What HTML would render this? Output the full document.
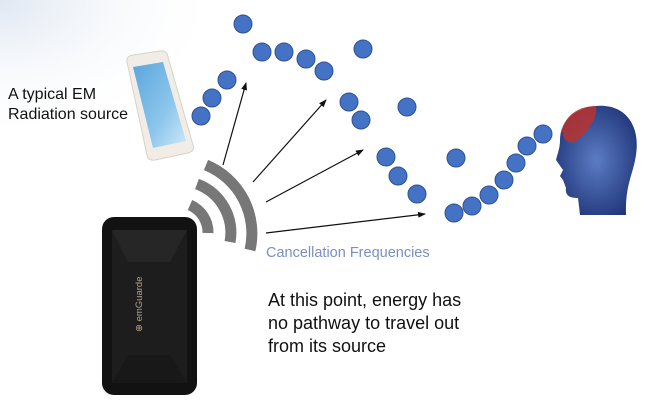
<!DOCTYPE html>
<html><head><style>
body{margin:0;width:652px;height:406px;overflow:hidden;background:#fff;font-family:"Liberation Sans",sans-serif;}
</style></head><body>
<svg width="652" height="406" viewBox="0 0 652 406" xmlns="http://www.w3.org/2000/svg">
<defs>
<radialGradient id="bg" cx="0" cy="0" r="0.35"><stop offset="0" stop-color="#dfe7f2"/><stop offset="1" stop-color="#fff" stop-opacity="0"/></radialGradient>
<linearGradient id="scr" x1="0" y1="0" x2="1" y2="1"><stop offset="0" stop-color="#5aa6dc"/><stop offset="0.6" stop-color="#8cc6ec"/><stop offset="1" stop-color="#cfe8f7"/></linearGradient>
<radialGradient id="hd" cx="0.5" cy="0.5" r="0.6"><stop offset="0" stop-color="#5b7cc4"/><stop offset="1" stop-color="#1f3478"/></radialGradient>
<marker id="ar" markerWidth="8" markerHeight="8" refX="7" refY="4" orient="auto" markerUnits="userSpaceOnUse"><path d="M0,1 L8,4 L0,7 z" fill="#111"/></marker>
</defs>
<rect width="652" height="406" fill="url(#bg)"/>
<!-- phone -->
<path d="M127 62 Q126 56 133 55 L160 51 Q167 50 168 57 L193 145 Q195 151 188 153 L155 160 Q148 161 147 155 Z" fill="#f1ede6" stroke="#d8d2c8"/>
<path d="M133 67 L163 62 L186 141 L153 148 Z" fill="url(#scr)"/>
<!-- device -->
<rect x="102" y="217" width="95" height="178" rx="12" fill="#121212"/>
<path d="M112 230 L187 230 L187 383 L112 383 Z" fill="#1d1d1d"/>
<path d="M112 230 L128 262 L170 262 L187 230 Z" fill="#262626"/>
<path d="M112 383 L128 355 L170 355 L187 383 Z" fill="#181818"/>
<text x="0" y="0" transform="translate(142 332) rotate(-90)" font-size="9.5" fill="#b9a58a">⊕ emGuarde</text>
<!-- wifi arcs -->
<g fill="none" stroke="#777" stroke-width="11" stroke-linecap="butt">
<path d="M190 205 A30 30 0 0 1 208 233"/>
<path d="M197 184 A52 52 0 0 1 230 242"/>
<path d="M206 165 A74 74 0 0 1 250 250"/>
</g>
<!-- arrows -->
<g stroke="#111" stroke-width="1.2" marker-end="url(#ar)">
<line x1="223" y1="165" x2="246" y2="83"/>
<line x1="253" y1="182" x2="326" y2="100"/>
<line x1="266" y1="202" x2="363" y2="150"/>
<line x1="266" y1="233" x2="425" y2="214"/>
</g>
<!-- dots -->
<g fill="#4472c4" stroke="#2f528f" stroke-width="1">
<circle cx="243" cy="24" r="9"/><circle cx="262" cy="52" r="9"/><circle cx="284" cy="52" r="9"/><circle cx="306" cy="59" r="9"/><circle cx="324" cy="71" r="9"/><circle cx="363" cy="49" r="9"/>
<circle cx="227" cy="80" r="9"/><circle cx="212" cy="98" r="9"/><circle cx="201" cy="116" r="9"/>
<circle cx="349" cy="102" r="9"/><circle cx="361" cy="120" r="9"/><circle cx="407" cy="107" r="9"/>
<circle cx="386" cy="157" r="9"/><circle cx="398" cy="176" r="9"/><circle cx="417" cy="194" r="9"/><circle cx="456" cy="158" r="9"/>
<circle cx="454" cy="213" r="9"/><circle cx="472" cy="206" r="9"/><circle cx="489" cy="195" r="9"/><circle cx="504" cy="180" r="9"/><circle cx="516" cy="163" r="9"/><circle cx="527" cy="146" r="9"/><circle cx="543" cy="134" r="9"/>
</g>
<!-- head -->
<path d="M560 140 C560 115 585 104 605 106 C628 108 640 128 636 155 C633 175 625 185 626 215 L580 215 L578 198 C570 198 565 196 566 188 L563 180 L560 176 L563 170 L556 160 C558 152 560 148 560 140 Z" fill="url(#hd)"/>
<path d="M562 130 C566 114 580 106 596 106 C598 118 588 132 575 142 C568 144 563 140 562 130 Z" fill="#b8322e" opacity="0.85"/>
<!-- text -->
<text x="8" y="99" font-size="16" fill="#111">A typical EM</text>
<text x="8" y="119" font-size="16" fill="#111">Radiation source</text>
<text x="266" y="257" font-size="14.5" fill="#7a8fc0">Cancellation Frequencies</text>
<text x="268" y="306" font-size="18" fill="#111">At this point, energy has</text>
<text x="268" y="329" font-size="18" fill="#111">no pathway to travel out</text>
<text x="268" y="352" font-size="18" fill="#111">from its source</text>
</svg>
</body></html>
